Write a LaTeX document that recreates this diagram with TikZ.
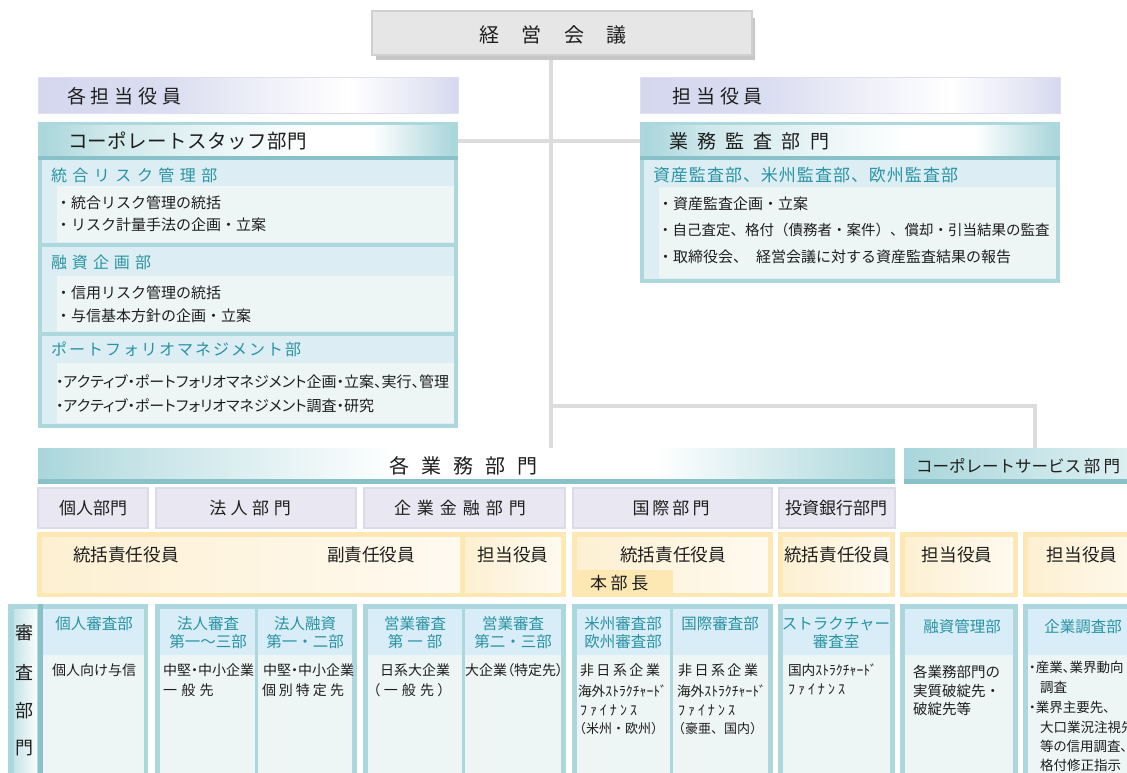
\documentclass[tikz,border=0pt]{standalone}
\usepackage{fontspec}
\setmainfont{Noto Sans CJK JP}
\newfontfamily\jpp[RawFeature={+palt}]{Noto Sans CJK JP}
\pgfdeclarelayer{bg}
\pgfsetlayers{bg,main}
\makeatletter
\newcommand\trk[2]{\let\trk@sep\relax\@tfor\trk@c:=#2\do{\trk@sep\trk@c\def\trk@sep{\hspace{#1}}}}
\makeatother
\newcommand\jfs[1]{\fontsize{#1}{#1}\selectfont}
\definecolor{trunkC}{HTML}{DCDCDC}
\definecolor{frameC}{HTML}{ACD8DD}
\definecolor{stripeC}{HTML}{88C1C8}
\definecolor{tealT}{HTML}{2A93A2}
\definecolor{tealL}{HTML}{A9D6DB}
\definecolor{subhC}{HTML}{DCEEF4}
\definecolor{contC}{HTML}{EEF6F5}
\definecolor{lavC}{HTML}{D4D7EE}
\definecolor{lavB}{HTML}{DEE0F0}
\definecolor{deptC}{HTML}{E9E7F1}
\definecolor{deptB}{HTML}{DDDAEA}
\definecolor{yelB}{HTML}{FDE8B4}
\definecolor{yelL}{HTML}{FDF0D2}
\definecolor{yelR}{HTML}{FFFAF0}
\definecolor{revH}{HTML}{D8EDF8}
\definecolor{grayB}{HTML}{D0D0D0}
\definecolor{grayS}{HTML}{C6C6C6}
\definecolor{grayL}{HTML}{E6E6E6}
\definecolor{txtC}{HTML}{1E1E1E}
\pgfdeclarehorizontalshading{tealsh}{100bp}{color(0bp)=(tealL); color(25bp)=(tealL); color(33bp)=(tealL!55!white); color(57bp)=(white); color(65bp)=(white); color(75bp)=(tealL); color(100bp)=(tealL)}
\pgfdeclarehorizontalshading{gyosh}{100bp}{color(0bp)=(tealL); color(25bp)=(tealL); color(30bp)=(tealL!70!white); color(46bp)=(white); color(61bp)=(white); color(75bp)=(tealL); color(100bp)=(tealL)}
\pgfdeclarehorizontalshading{lavsh}{100bp}{color(0bp)=(lavC); color(25bp)=(lavC); color(40bp)=(lavC!85!white); color(62bp)=(white); color(72bp)=(lavC!70!white); color(75bp)=(lavC); color(100bp)=(lavC)}
\tikzset{
  box/.style={inner sep=0pt, outer sep=0pt, anchor=north west},
  jt/.style={inner sep=0pt, outer sep=0pt, font=\jfs{#1}, anchor=base west, yshift={-0.38*#1pt}, text=txtC},
  tt/.style={text=tealT},
  conn/.style={draw=trunkC, line width=4pt},
}
\newcommand\rbox[6][]{\node[box,minimum width=#5pt,minimum height=#6pt,#1] (#2) at (#3,#4) {};}
\newcommand\tlab[6][]{\node[jt=#2,#1] (#3) at (#4,#5) {#6};}
\newcommand\rcol[3]{\rbox[fill=revH]{#1h}{#2}{609}{#3}{46}\rbox[fill=contC]{#1c}{#2}{655}{#3}{150}}
\begin{document}
\begin{tikzpicture}[x=1pt,y=-1pt]
\useasboundingbox (0,0) rectangle (1127,773);
\clip (0,0) rectangle (1127,773);
% ---------- top ----------
\fill[grayS] (376,18) rectangle (755,60);
\rbox[draw=grayB, line width=1.5pt, left color=grayL, middle color=white!97!black, right color=grayL]{keiei}{372}{11}{380}{44}
\tlab[anchor=base]{20}{tKeiei}{553}{35}{\trk{22.5pt}{経営会議}}
% ---------- lavender ----------
\rbox[draw=lavB, line width=1pt, shading=lavsh]{lav1}{38}{78}{420}{36}
\rbox[draw=lavB, line width=1pt, shading=lavsh]{lav2}{640}{78}{420}{36}
\tlab{19}{tLav1}{67}{96}{\trk{5pt}{各担当役員}}
\tlab{19}{tLav2}{672}{96}{\trk{5pt}{担当役員}}
% ---------- staff panel ----------
\rbox[fill=frameC]{staff}{38}{122}{420}{306}
\rbox[shading=tealsh]{staffh}{42}{126}{412}{30}
\rbox[fill=stripeC]{staffs}{38}{156}{420}{4}
\rbox[fill=subhC]{s1}{42}{160}{412}{83}
\rbox[fill=contC]{s1c}{57}{186}{397}{56}
\rbox[fill=subhC]{s2}{42}{247}{412}{85}
\rbox[fill=contC]{s2c}{57}{276}{397}{55}
\rbox[fill=subhC]{s3}{42}{336}{412}{88}
\rbox[fill=contC]{s3c}{57}{363}{397}{60}
\tlab{19.5}{tStaff}{68}{141}{\trk{0.5pt}{コーポレートスタッフ部門}}
\tlab[tt]{16}{tRisk}{51}{175}{\trk{5.5pt}{統合リスク管理部}}
\tlab{15}{tR1}{56}{203}{・統合リスク管理の統括}
\tlab{15}{tR2}{56}{225}{・リスク計量手法の企画・立案}
\tlab[tt]{16}{tYushi}{51}{262}{\trk{5pt}{融資企画部}}
\tlab{15}{tY1}{56}{293}{・信用リスク管理の統括}
\tlab{15}{tY2}{56}{316}{・与信基本方針の企画・立案}
\tlab[tt]{16}{tPort}{51}{349}{\trk{2pt}{ポートフォリオマネジメント部}}
\tlab{15}{tP1}{56}{382}{\jpp ・アクティブ・ポートフォリオマネジメント企画・立案、実行、管理}
\tlab{15}{tP2}{56}{406}{\jpp ・アクティブ・ポートフォリオマネジメント調査・研究}
% ---------- audit panel ----------
\rbox[fill=frameC]{audit}{640}{122}{420}{161}
\rbox[shading=tealsh]{audith}{644}{126}{412}{30}
\rbox[fill=stripeC]{audits}{640}{156}{420}{4}
\rbox[fill=subhC]{a1}{644}{160}{412}{119}
\rbox[fill=contC]{a1c}{659}{187}{397}{91}
\tlab{19}{tAudit}{669}{141}{\trk{9.2pt}{業務監査部門}}
\tlab[tt]{17}{tAsset}{653}{175}{\trk{1pt}{資産監査部、米州監査部、欧州監査部}}
\tlab{15}{tA1}{658}{204}{・資産監査企画・立案}
\tlab{14.5}{tA2}{658}{230}{・自己査定、格付（債務者・案件）、償却・引当結果の監査}
\tlab{15}{tA3}{658}{257}{・取締役会、\hspace{8pt}経営会議に対する資産監査結果の報告}
% ---------- business bars ----------
\rbox[shading=gyosh]{gyomu}{38}{448}{857}{32}
\rbox[fill=stripeC]{gyomus}{38}{479}{857}{5}
\rbox[left color=tealL, right color=tealL!35!white]{cs}{904}{448}{240}{32}
\rbox[fill=stripeC]{css}{904}{479}{240}{5}
\tlab[anchor=base]{20}{tGyomu}{463}{466}{\trk{12pt}{各業務部門}}
\tlab{16.5}{tCS}{916}{466}{コーポレートサービス\hspace{3pt}部\hspace{3pt}門}
% ---------- department row ----------
\rbox[fill=deptC, draw=deptB, line width=2pt]{d1}{38}{488}{110}{40}
\rbox[fill=deptC, draw=deptB, line width=2pt]{d2}{156}{488}{200}{40}
\rbox[fill=deptC, draw=deptB, line width=2pt]{d3}{364}{488}{201}{40}
\rbox[fill=deptC, draw=deptB, line width=2pt]{d4}{573}{488}{199}{40}
\rbox[fill=deptC, draw=deptB, line width=2pt]{d5}{779}{488}{116}{40}
\tlab[anchor=base]{17}{tD1}{93}{508}{個人部門}
\tlab[anchor=base]{17}{tD2}{250}{508}{\trk{4.5pt}{法人部門}}
\tlab[anchor=base]{17}{tD3}{460}{508}{\trk{6pt}{企業金融部門}}
\tlab[anchor=base]{17}{tD4}{671}{508}{\trk{3pt}{国際部門}}
\tlab[anchor=base]{17}{tD5}{836}{508}{投資銀行部門}
% ---------- officer row ----------
\rbox[fill=yelB]{yA}{37}{532}{529}{65}
\rbox[left color=yelL, right color=yelR]{yA1}{42}{537}{418}{55}
\rbox[left color=yelL, right color=yelR]{yA2}{465}{537}{96}{55}
\rbox[fill=yelB]{yB}{572}{532}{201}{65}
\rbox[left color=yelL, right color=yelR]{yB1}{577}{537}{191}{55}
\rbox[fill=yelB]{yBh}{577}{570}{96}{27}
\rbox[fill=yelB]{yC}{778}{532}{117}{65}
\rbox[left color=yelL, right color=yelR]{yC1}{783}{537}{107}{55}
\rbox[fill=yelB]{yD}{900}{532}{118}{65}
\rbox[left color=yelL, right color=yelR]{yD1}{905}{537}{108}{55}
\rbox[fill=yelB]{yE}{1023}{532}{140}{65}
\rbox[left color=yelL, right color=yelR]{yE1}{1028}{537}{130}{55}
\tlab{17.6}{tO1}{73}{555}{統括責任役員}
\tlab{17.6}{tO2}{327}{555}{副責任役員}
\tlab[anchor=base]{17.6}{tO3}{513}{555}{担当役員}
\tlab[anchor=base]{17.6}{tO4}{673}{555}{統括責任役員}
\tlab{17}{tHonbu}{590}{583}{\trk{3.7pt}{本部長}}
\tlab[anchor=base]{17.6}{tO5}{837}{555}{統括責任役員}
\tlab[anchor=base]{17.6}{tO6}{957}{555}{担当役員}
\tlab[anchor=base]{17.6}{tO7}{1082}{555}{担当役員}
% ---------- review row ----------
\rbox[fill=frameC]{g1}{8}{604}{140}{200}
\rbox[left color=frameC!70!white, right color=white!95!frameC]{g1lab}{14}{609}{23}{200}
\rbox[fill=stripeC]{g1str}{38}{604}{5}{200}
\rcol{k1}{43}{101}
\rbox[fill=frameC]{g2}{155}{604}{202}{200}
\rcol{k2}{160}{95}
\rcol{k3}{258}{94}
\rbox[fill=frameC]{g3}{363}{604}{203}{200}
\rcol{k4}{368}{94}
\rcol{k5}{465}{96}
\rbox[fill=frameC]{g4}{572}{604}{201}{200}
\rcol{k6}{577}{93}
\rcol{k7}{673}{95}
\rbox[fill=frameC]{g5}{778}{604}{117}{200}
\rcol{k8}{783}{107}
\rbox[fill=frameC]{g6}{900}{604}{118}{200}
\rcol{k9}{905}{108}
\rbox[fill=frameC]{g7}{1023}{604}{140}{200}
\rcol{k10}{1028}{130}
\tlab[anchor=base]{18}{tS1}{25}{633}{審}
\tlab[anchor=base]{18}{tS2}{25}{673}{査}
\tlab[anchor=base]{18}{tS3}{25}{711}{部}
\tlab[anchor=base]{18}{tS4}{25}{748}{門}
\tlab[tt,anchor=base]{15.5}{h1}{94}{624}{個人審査部}
\tlab[tt,anchor=base]{15.5}{h2a}{208}{624}{法人審査}
\tlab[tt,anchor=base]{15.5}{h2b}{208}{642}{第一～三部}
\tlab[tt,anchor=base]{15.5}{h3a}{305}{624}{法人融資}
\tlab[tt,anchor=base]{15.5}{h3b}{305}{642}{第一・二部}
\tlab[tt,anchor=base]{15.5}{h4a}{415}{624}{営業審査}
\tlab[tt,anchor=base]{15.5}{h4b}{415}{642}{\trk{4pt}{第一部}}
\tlab[tt,anchor=base]{15.5}{h5a}{513}{624}{営業審査}
\tlab[tt,anchor=base]{15.5}{h5b}{513}{642}{第二・三部}
\tlab[tt,anchor=base]{15.5}{h6a}{623}{624}{米州審査部}
\tlab[tt,anchor=base]{15.5}{h6b}{623}{642}{欧州審査部}
\tlab[tt,anchor=base]{15.5}{h7}{720}{624}{国際審査部}
\tlab[tt,anchor=base]{15.5}{h8a}{836}{624}{ストラクチャー}
\tlab[tt,anchor=base]{15.5}{h8b}{836}{642}{審査室}
\tlab[tt,anchor=base]{15.5}{h9}{962}{627}{融資管理部}
\tlab[tt,anchor=base]{15.5}{h10}{1083}{627}{企業調査部}
\tlab{14}{c1}{52}{670}{個人向け与信}
\tlab{14}{c2a}{163}{670}{\jpp 中堅・中小企業}
\tlab{14}{c2b}{163}{690}{\trk{4.3pt}{一般先}}
\tlab{14}{c3a}{263}{670}{\jpp 中堅・中小企業}
\tlab{14}{c3b}{262}{690}{\trk{3pt}{個別特定先}}
\tlab{14}{c4a}{380}{670}{日系大企業}
\tlab{14}{c4b}{373}{690}{\jpp （\hspace{4pt}一\hspace{4pt}般\hspace{4pt}先\hspace{4pt}）}
\tlab{14}{c5}{465}{670}{\jpp 大企業（特定先）}
\tlab{14}{c6a}{580}{670}{\trk{2.5pt}{非日系企業}}
\tlab{13.7}{c6b}{578}{691}{海外ｽﾄﾗｸﾁｬｰﾄﾞ}
\tlab{14}{c6c}{580}{710}{\trk{3pt}{ﾌｧｲﾅﾝｽ}}
\tlab{13}{c6d}{573}{729}{（米州・欧州）}
\tlab{14}{c7a}{678}{670}{\trk{2.5pt}{非日系企業}}
\tlab{13.7}{c7b}{677}{691}{海外ｽﾄﾗｸﾁｬｰﾄﾞ}
\tlab{14}{c7c}{678}{710}{\trk{3pt}{ﾌｧｲﾅﾝｽ}}
\tlab{13}{c7d}{672}{729}{（豪亜、国内）}
\tlab{13.7}{c8a}{788}{670}{国内ｽﾄﾗｸﾁｬｰﾄﾞ}
\tlab{14}{c8b}{788}{689}{\trk{3pt}{ﾌｧｲﾅﾝｽ}}
\tlab{14.5}{c9a}{913}{672}{各業務部門の}
\tlab{14.5}{c9b}{913}{691}{実質破綻先・}
\tlab{14.5}{c9c}{913}{709}{破綻先等}
\tlab{13.5}{c10a}{1029}{667}{\jpp ・産業、業界動向}
\tlab{13.5}{c10b}{1040}{687}{調査}
\tlab{13.5}{c10c}{1029}{707}{\jpp ・業界主要先、}
\tlab{13.5}{c10d}{1040}{727}{大口業況注視先}
\tlab{13.5}{c10e}{1040}{746}{\jpp 等の信用調査、}
\tlab{13.5}{c10f}{1040}{765}{格付修正指示}
% ---------- connectors ----------
\begin{pgfonlayer}{bg}
\fill[white] (0,0) rectangle (1127,773);
\coordinate (j1) at (551,406);
\coordinate (jr) at (1035,406);
\draw[conn] (keiei.south -| j1) -- (j1 |- gyomu.north);
\draw[conn] (staffh.east) -- (audith.west);
\draw[conn] (j1) -- (jr) -- (jr |- cs.north);
\end{pgfonlayer}
\end{tikzpicture}
\end{document}
